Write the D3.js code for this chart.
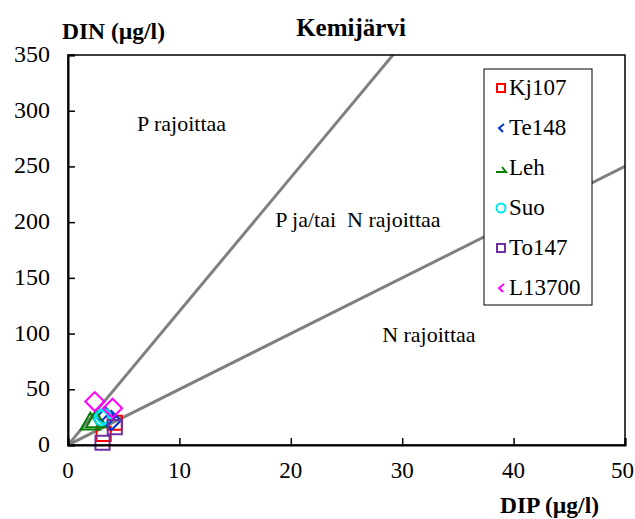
<!DOCTYPE html>
<html>
<head>
<meta charset="utf-8">
<script src="https://cdn.jsdelivr.net/npm/d3@7"></script>
<style>
  html, body { margin: 0; padding: 0; background: #fff; }
  svg { display: block; }
  svg text { font-family: "Liberation Serif", "Times New Roman", Tinos, "DejaVu Serif", serif; fill: #000; white-space: pre; }
</style>
</head>
<body>
<script>
// Kemijärvi: dissolved inorganic N vs P with limitation boundaries
const xTicks = [0, 10, 20, 30, 40, 50];
const yTicks = [0, 50, 100, 150, 200, 250, 300, 350];

const seriesNames = ["Kj107", "Te148", "Leh", "Suo", "To147", "L13700"];
const seriesColors = ["#ff0000", "#0033cc", "#008000", "#00e5ee", "#7030a0", "#ff00ff"];
const seriesSymbols = ["square", "diamond", "triangle", "circle", "square", "diamond"];

// DIP, DIN pairs (µg/l)
const kj107 = [[4.2, 20], [3.2, 10]];
const te148 = [[3.4, 25], [3.9, 22]];
const leh = [[2.0, 19], [2.5, 21]];
const suo = [[3.2, 26], [3.0, 24]];
const to147 = [[4.2, 16], [3.1, 2]];
const l13700 = [[2.4, 39], [4.0, 33]];
const seriesData = [kj107, te148, leh, suo, to147, l13700];

// N:P ratio boundaries
const ratioLines = [12, 5];

const regionLabels = [
  { text: "P rajoittaa", x: 6.2, y: 282 },
  { text: "P ja/tai  N rajoittaa", x: 18.6, y: 196 },
  { text: "N rajoittaa", x: 28.2, y: 92 }
];

const FONT = "'Liberation Serif', 'Times New Roman', Tinos, 'DejaVu Serif', serif";
const W = 635, H = 519;
const m = { left: 68, right: 10, top: 55, bottom: 74 };

const svg = d3.select("body").append("svg").attr("width", W).attr("height", H)
  .attr("font-family", FONT);

const x = d3.scaleLinear().domain([0, 50]).range([m.left, W - m.right]);
const y = d3.scaleLinear().domain([0, 350]).range([H - m.bottom, m.top]);

svg.append("defs").append("clipPath").attr("id", "clip")
  .append("rect").attr("x", x(0)).attr("y", y(350)).attr("width", x(50) - x(0)).attr("height", y(0) - y(350));

// ratio lines
const lines = svg.append("g").attr("clip-path", "url(#clip)");
ratioLines.forEach(r => {
  lines.append("line")
    .attr("x1", x(0)).attr("y1", y(0))
    .attr("x2", x(50)).attr("y2", y(50 * r))
    .attr("stroke", "#808080").attr("stroke-width", 3);
});

// region labels
regionLabels.forEach(l => {
  svg.append("text").attr("x", x(l.x)).attr("y", y(l.y))
    .attr("font-family", FONT).attr("font-size", 22).text(l.text);
});

// markers
const symSize = { square: 200, diamond: 180, triangle: 160, circle: 160 };
const symType = { square: d3.symbolSquare, diamond: d3.symbolSquare, triangle: d3.symbolTriangle, circle: d3.symbolCircle };
const marks = svg.append("g");
seriesData.forEach((pts, i) => {
  const s = seriesSymbols[i];
  const gen = d3.symbol().type(symType[s]).size(symSize[s]);
  marks.selectAll(null).data(pts).enter().append("path")
    .attr("d", gen)
    .attr("transform", d => `translate(${x(d[0])},${y(d[1])})` + (s === "diamond" ? " rotate(45)" : ""))
    .attr("fill", "none")
    .attr("stroke", seriesColors[i])
    .attr("stroke-width", 2);
});

// frame
svg.append("rect").attr("x", x(0)).attr("y", y(350))
  .attr("width", x(50) - x(0)).attr("height", y(0) - y(350))
  .attr("fill", "none").attr("stroke", "#000").attr("stroke-width", 1.5);

// axes with inward ticks
const xAxis = svg.append("g").attr("transform", `translate(0,${y(0)})`)
  .call(d3.axisTop(x).tickValues(xTicks).tickSize(7).tickFormat(""));
xAxis.select(".domain").attr("stroke-width", 2);
xAxis.selectAll(".tick line").attr("stroke-width", 1.5);
const lastX = xTicks[xTicks.length - 1];
svg.append("g").selectAll("text").data(xTicks).enter().append("text")
  .attr("x", d => d === lastX ? W - 1 : x(d)).attr("y", y(0) + 33)
  .attr("text-anchor", d => d === lastX ? "end" : "middle")
  .attr("font-family", FONT).attr("font-size", 23).text(d => d);

const yAxis = svg.append("g").attr("transform", `translate(${x(0)},0)`)
  .call(d3.axisRight(y).tickValues(yTicks).tickSize(7).tickFormat(""));
yAxis.select(".domain").attr("stroke-width", 2);
yAxis.selectAll(".tick line").attr("stroke-width", 1.5);
svg.append("g").selectAll("text").data(yTicks).enter().append("text")
  .attr("x", x(0) - 18).attr("y", d => y(d) + 7)
  .attr("text-anchor", "end").attr("font-family", FONT).attr("font-size", 24).text(d => d);

// titles
svg.append("text").attr("x", 351).attr("y", 36).attr("text-anchor", "middle")
  .attr("font-family", FONT).attr("font-size", 25).attr("font-weight", "bold").text("Kemijärvi");
svg.append("text").attr("x", 62).attr("y", 39)
  .attr("font-family", FONT).attr("font-size", 23.5).attr("font-weight", "bold").text("DIN (µg/l)");
svg.append("text").attr("x", 599).attr("y", 513).attr("text-anchor", "end")
  .attr("font-family", FONT).attr("font-size", 23.5).attr("font-weight", "bold").text("DIP (µg/l)");

// legend
const lg = svg.append("g").attr("transform", "translate(484,69)");
lg.append("rect").attr("width", 108).attr("height", 236)
  .attr("fill", "#fff").attr("stroke", "#000").attr("stroke-width", 1);
seriesNames.forEach((name, i) => {
  const cy = 19 + i * 40;
  const cx = 17;
  const c = seriesColors[i];
  const s = seriesSymbols[i];
  const g = lg.append("g");
  if (s === "square") {
    g.append("rect").attr("x", cx - 4).attr("y", cy - 4).attr("width", 8).attr("height", 8)
      .attr("fill", "none").attr("stroke", c).attr("stroke-width", 2);
  } else if (s === "diamond") {
    g.append("path").attr("d", `M${cx + 3},${cy - 4} L${cx - 2},${cy} L${cx + 2},${cy + 4}`)
      .attr("fill", "none").attr("stroke", c).attr("stroke-width", 2);
  } else if (s === "triangle") {
    g.append("path").attr("d", `M${cx - 5},${cy + 4} L${cx + 5},${cy + 4} L${cx + 1},${cy - 1}`)
      .attr("fill", "none").attr("stroke", c).attr("stroke-width", 2);
  } else {
    g.append("circle").attr("cx", cx).attr("cy", cy).attr("r", 4.5)
      .attr("fill", "none").attr("stroke", c).attr("stroke-width", 2);
  }
  g.append("text").attr("x", 25).attr("y", cy + 7).attr("font-family", FONT).attr("font-size", 23).text(name);
});
</script>
</body>
</html>
